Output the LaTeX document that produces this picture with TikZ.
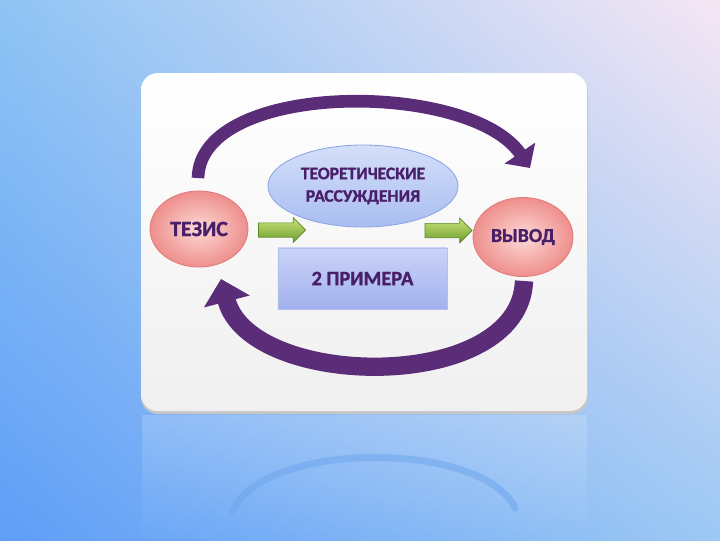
\documentclass[tikz,border=0pt]{standalone}
\usepackage{fontspec}
\setmainfont{Carlito}[BoldFeatures={FakeBold=1.2}]
\usetikzlibrary{shapes.geometric,shapes.arrows,arrows.meta,fadings,shadings}

\begin{document}
\begin{tikzpicture}[x=0.025cm,y=-0.025cm,
  vtx/.style={ellipse,draw=cbv,line width=0.6pt,inner color=cfvi,outer color=cfvo,
    text=clv,inner sep=0pt,font=\bfseries\fontsize{15.5}{17}\selectfont},
  garr/.style={single arrow,draw=cbg,line width=0.5pt,top color=cfgt,bottom color=cfgb,
    inner sep=0.17cm,minimum height=1.175cm,single arrow head extend=0.13cm},
  parc/.style={draw=cpa,line width=#1},
]
%
\useasboundingbox (0,0) rectangle (720,540);
%
\definecolor{cbg0}{HTML}{8EC4F4}
\definecolor{cbg1}{HTML}{F6E6F4}
\definecolor{cbg2}{HTML}{5F9EF7}
\definecolor{cbg3}{HTML}{9CC8F4}
\definecolor{cbv}{HTML}{E27B7B}
\definecolor{cfvi}{HTML}{FCD9D6}
\definecolor{cfvo}{HTML}{EE8F8C}
\definecolor{clv}{HTML}{4A1F6A}
\definecolor{cbe}{HTML}{8EA4E2}
\definecolor{cfet}{HTML}{D4DFF9}
\definecolor{cfeb}{HTML}{A9BDF1}
\definecolor{cfbt}{HTML}{CAD3F7}
\definecolor{cfbb}{HTML}{A2B1EE}
\definecolor{cbg}{HTML}{5E8A25}
\definecolor{cfgt}{HTML}{C8E27A}
\definecolor{cfgb}{HTML}{6E9E2E}
\definecolor{cpa}{HTML}{5B2D78}
\definecolor{crf}{HTML}{6EA6EE}
%
\shade[upper left=cbg0,upper right=cbg1,lower left=cbg2,lower right=cbg3] (0,0) rectangle (720,540);
\fill[white,opacity=0.18,path fading=south] (142,415) rectangle (587,540);
\draw[crf,line width=5pt,line cap=round,opacity=0.55] (232,512) .. controls (262,440) and (482,440) .. (515,508);
%
\fill[gray!45,rounded corners=12] (141,76) rectangle (588,414);
\shade[top color=white,bottom color=gray!12,rounded corners=12] (141,73) rectangle (587,411);
%
\node[vtx,minimum width=2.45cm,minimum height=1.9cm] (tez) at (199,229) {ТЕЗИС};
\node[vtx,minimum width=2.5cm,minimum height=1.975cm,font=\bfseries\fontsize{14}{16}\selectfont] (vyv) at (523,237) {ВЫВОД};
\node[ellipse,draw=cbe,line width=0.6pt,top color=cfet,bottom color=cfeb,text=clv,inner sep=0pt,
  minimum width=4.75cm,minimum height=2.05cm,align=center,
  font=\bfseries\fontsize{12.5}{16}\selectfont] (teo) at (363,186) {ТЕОРЕТИЧЕСКИЕ\\РАССУЖДЕНИЯ};
\node[rectangle,draw=cbe!70,line width=0.4pt,top color=cfbt,bottom color=cfbb,text=clv,inner sep=0pt,
  minimum width=4.225cm,minimum height=1.525cm,
  font=\bfseries\fontsize{14.5}{17}\selectfont] (pri) at (362.5,278.5) {2 ПРИМЕРА};
%
\node[garr] (ga) at (278.5,230) {};
\node[garr] (gb) at (445,230.5) {};
%
\coordinate (ta) at (198,178);
\coordinate (tb) at (530,168);
\coordinate (ba) at (524,281);
\coordinate (bb) at (221,279);
\draw[parc=9pt,-{Triangle[width=0.9cm,length=0.45cm]}] (ta) .. controls +(2,-98) and +(-60,-88) .. (tb);
\draw[parc=13pt,-{Triangle[width=1.15cm,length=0.58cm]}] (ba) .. controls +(-4,113) and +(29,111) .. (bb);
%
\end{tikzpicture}
\end{document}
